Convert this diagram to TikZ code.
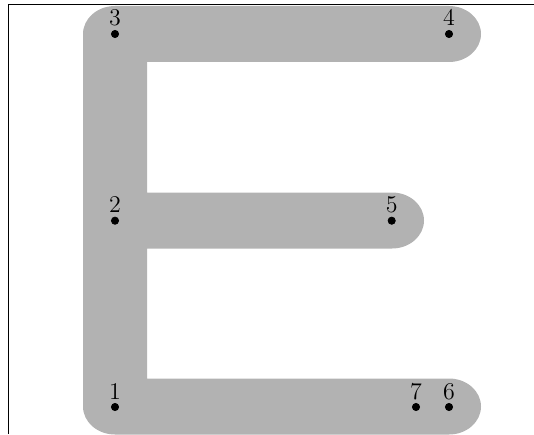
\documentclass[tikz,border=0pt]{standalone}
\usepackage{amsmath,amssymb}
\usepackage{xcolor}

\begin{document}
\begin{tikzpicture}[x=0.5pt,y=0.5pt,
    pt/.style={draw,circle,fill=black,inner sep=0pt,minimum size=3.6pt},
    every label/.style={inner sep=0pt,font=\fontsize{13}{15}\selectfont}]
            \useasboundingbox (0,0) rectangle (534,434);
            \fill[black!30] (147,372) -- (449,372)
                arc[start angle=-90,end angle=90,x radius=16pt,y radius=14pt]
                -- (115,428)
                arc[start angle=90,end angle=180,x radius=16pt,y radius=14pt]
                -- (83,27.5)
                arc[start angle=180,end angle=270,x radius=16pt,y radius=14pt]
                -- (449,-0.5)
                arc[start angle=-90,end angle=90,x radius=16pt,y radius=14pt]
                -- (147,55.5) -- (147,185.5) -- (392,185.5)
                arc[start angle=-90,end angle=90,x radius=16pt,y radius=14pt]
                -- (147,241.5) -- cycle;
            \draw (8.3,0) -- (8.3,429.3) -- (534,429.3);
            \node[pt,label={[label distance=1.8pt]90:$1$}] at (115,27) (p1) {};
            \node[pt,label={[label distance=1.8pt]90:$2$}] at (115,213.3) (p2) {};
            \node[pt,label={[label distance=1.8pt]90:$3$}] at (115,400) (p3) {};
            \node[pt,label={[label distance=1.8pt]90:$4$}] at (449,400) (p4) {};
            \node[pt,label={[label distance=1.8pt]90:$5$}] at (391.7,213.3) (p5) {};
            \node[pt,label={[label distance=1.8pt]90:$6$}] at (449,27) (p6) {};
            \node[pt,label={[label distance=1.8pt]90:$7$}] at (416,27) (p7) {};
          \end{tikzpicture}
\end{document}
